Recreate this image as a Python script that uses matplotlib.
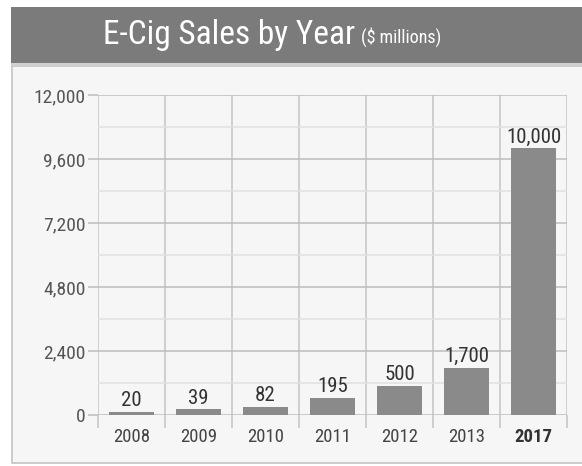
import matplotlib.pyplot as plt
from matplotlib.patches import Rectangle
from matplotlib.ticker import FixedLocator, MultipleLocator

# values
years = ['2008', '2009', '2010', '2011', '2012', '2013', '2017']
bar_heights = [110, 220, 300, 640, 1090, 1780, 10000]   # drawn heights
sales_labels = ['20', '39', '82', '195', '500', '1,700', '10,000']
y_ticks = [0, 2400, 4800, 7200, 9600, 12000]
y_tick_labels = ['0', '2,400', '4,800', '7,200', '9,600', '12,000']

plt.rcParams['font.family'] = ['Roboto Condensed', 'Barlow Semi Condensed', 'DejaVu Sans']

fig = plt.figure(figsize=(5.82, 4.66), dpi=100)
fig.patch.set_facecolor('white')

# panel and title banner
W, H = 582, 466
fig.patches.append(Rectangle((12 / W, 3 / H), 1, (H - 66 - 3) / H, transform=fig.transFigure,
                             facecolor='#f6f6f6', edgecolor='#c4c4c4', lw=1.2, zorder=-2))
fig.patches.append(Rectangle((11 / W, (H - 63) / H), 1, 56 / H, transform=fig.transFigure,
                             facecolor='#7b7b7b', edgecolor='none', zorder=-1))
fig.patches.append(Rectangle((11 / W, (H - 66) / H), 1, 3 / H, transform=fig.transFigure,
                             facecolor='#d0d0d0', edgecolor='none', zorder=-1))
t = fig.text(103 / W, (H - 35) / H, 'E-Cig Sales by Year', color='white', fontsize=24,
             va='center', ha='left')
fig.canvas.draw()
bb = t.get_window_extent()
fig.text(bb.x1 / W + 6 / W, (H - 37) / H, '($ millions)', color='white', fontsize=13,
         va='center', ha='left')

ax = fig.add_axes([98 / W, 51 / H, 469 / W, 320 / H])
ax.set_zorder(2)
ax.set_facecolor('none')
x = list(range(len(years)))
ax.bar(x, bar_heights, width=0.66, color='#8a8a8a', zorder=3)
for xi, h, lab in zip(x, bar_heights, sales_labels):
    ax.text(xi, h + 60, lab, ha='center', va='bottom', fontsize=15, color='#333333', zorder=4)

ax.set_xlim(-0.5, len(years) - 0.5)
ax.set_ylim(0, 12000)
ax.set_yticks(y_ticks)
ax.set_yticklabels(y_tick_labels)
ax.yaxis.set_minor_locator(MultipleLocator(1200))
ax.set_xticks(x)
ax.set_xticklabels(years)
ax.xaxis.set_minor_locator(FixedLocator([i - 0.5 for i in range(len(years) + 1)]))

ax.grid(True, which='major', axis='y', color='#bdbdbd', lw=1.1, zorder=1)
ax.grid(True, which='minor', axis='y', color='#e0e0e0', lw=1.1, zorder=1)
ax.grid(True, which='minor', axis='x', color='#c4c4c4', lw=1.1, zorder=1)
ax.tick_params(axis='y', which='major', length=7, color='#bdbdbd', width=1.1,
               labelsize=14, labelcolor='#555555', pad=2)
ax.tick_params(axis='y', which='minor', length=0)
ax.tick_params(axis='x', which='major', length=0, labelsize=13.5, labelcolor='#444444', pad=9)
ax.tick_params(axis='x', which='minor', length=9, color='#c4c4c4', width=1.1)
for s in ax.spines.values():
    s.set_visible(False)
ax.get_xticklabels()[-1].set_fontweight('bold')
ax.get_xticklabels()[-1].set_color('#333333')

fig.savefig('out.png', dpi=100)
